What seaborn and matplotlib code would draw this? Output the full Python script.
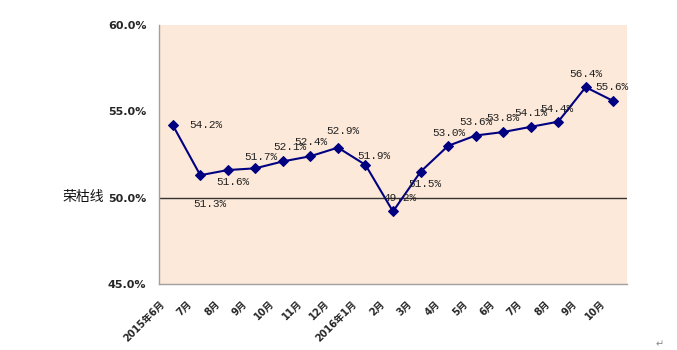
import matplotlib
matplotlib.use("Agg")
import matplotlib.pyplot as plt
import matplotlib.transforms as mtransforms
import seaborn as sns
import pandas as pd

# ---- data ----
month_labels = ["2015年6月", "7月", "8月", "9月", "10月", "11月", "12月",
                "2016年1月", "2月", "3月", "4月", "5月", "6月", "7月", "8月", "9月", "10月"]
pmi_values = [54.2, 51.3, 51.6, 51.7, 52.1, 52.4, 52.9, 51.9, 49.2, 51.5,
              53.0, 53.6, 53.8, 54.1, 54.4, 56.4, 55.6]
y_ticks = [45, 50, 55, 60]
ref_line = 50
ref_label = "荣枯线"

# label offsets (pixels, styling only)
label_offsets = [(33, 0), (10, -29), (5, -12), (6, 11), (7, 14), (0, 14), (5, 17),
                 (8, 9), (7, 13), (4, -12), (1, 13), (0, 14), (0, 14), (0, 14),
                 (-1, 13), (0, 13), (-1, 14)]

df = pd.DataFrame({"idx": range(len(pmi_values)), "value": pmi_values})

sns.set_theme(style="white")
plt.rcParams["font.family"] = ["DejaVu Sans", "Noto Sans CJK SC"]

W, H = 677, 350
fig = plt.figure(figsize=(W / 100, H / 100), dpi=100)
fig.patch.set_facecolor("white")
ax = fig.add_axes([159 / W, 1 - 284 / H, (627 - 159) / W, (284 - 25) / H])
ax.set_facecolor("#FDE9D9")

navy = "#000080"
sns.lineplot(data=df, x="idx", y="value", ax=ax, color=navy, linewidth=1.5,
             marker="D", markersize=5, markeredgecolor=navy, markerfacecolor=navy)

ax.axhline(ref_line, color="#333333", linewidth=1.0, zorder=1)

ax.set_xlim(-0.5, len(pmi_values) - 0.5)
ax.set_ylim(min(y_ticks), max(y_ticks))
ax.set_yticks(y_ticks)
ax.set_yticklabels([f"{v:.1f}%" for v in y_ticks], fontsize=8, fontweight="bold",
                   family=["DejaVu Sans", "Noto Sans CJK SC"])
ax.set_xticks(list(range(len(month_labels))))
ax.set_xticklabels(month_labels, rotation=45, ha="right", va="center",
                   rotation_mode="anchor", fontsize=7, fontweight="bold",
                   family=["DejaVu Sans", "Noto Sans CJK SC"])
ax.tick_params(axis="x", length=0, pad=13)
ax.tick_params(axis="y", length=0, pad=9)
shift = mtransforms.ScaledTranslation(-10 / 100, 0, fig.dpi_scale_trans)
for lab in ax.get_xticklabels():
    lab.set_transform(lab.get_transform() + shift)

ax.set_xlabel("")
ax.set_ylabel("")
for s in ["top", "right"]:
    ax.spines[s].set_visible(False)
for s in ["left", "bottom"]:
    ax.spines[s].set_color("#a0a0a0")
    ax.spines[s].set_linewidth(1.0)

for i, v in enumerate(pmi_values):
    dx, dy = label_offsets[i]
    ax.annotate(f"{v:.1f}%", (i, v), xytext=(dx, dy), textcoords="offset pixels",
                ha="center", va="center", fontsize=8,
                family=["Liberation Mono", "DejaVu Sans"], color="#222222")

fig.text(62 / W, 1 - 197 / H, ref_label, ha="left", va="center", fontsize=10,
         family=["Noto Sans CJK SC", "DejaVu Sans"], color="#111111")
fig.text(660 / W, 1 - 344 / H, "↵", ha="center", va="center", fontsize=7, color="#888888")

fig.savefig("out.png", dpi=100)
